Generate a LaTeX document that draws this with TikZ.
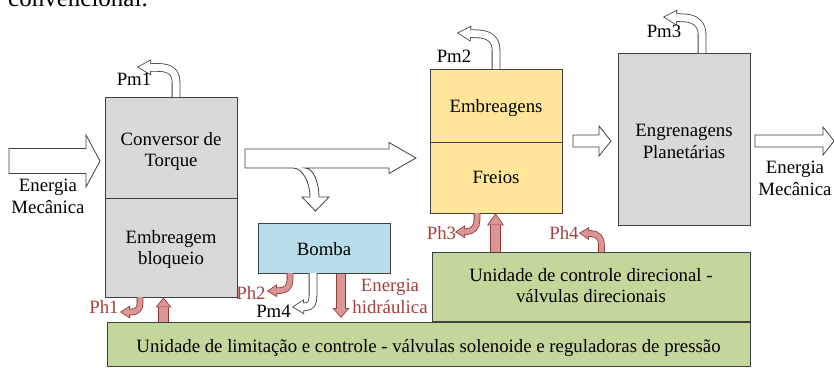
\documentclass[tikz,border=0pt]{standalone}
\usepackage{fontspec}
\setmainfont{Liberation Serif}
\usetikzlibrary{arrows.meta}
\definecolor{edge}{HTML}{404040}
\definecolor{boxgray}{HTML}{D9D9D9}
\definecolor{boxyellow}{HTML}{FFE699}
\definecolor{boxblue}{HTML}{B7DEE8}
\definecolor{boxgreen}{HTML}{C3D69B}
\definecolor{redfill}{HTML}{D99694}
\definecolor{rededge}{HTML}{953735}
\definecolor{redtext}{HTML}{A3403D}
% #1 edge colour, #2 fill colour, #3 band width, #4 head length, #5 head width, #6 path
\newcommand\bandarrow[6]{%
  \pgfmathsetmacro\baA{atan((#5/2)/#4)}%
  \pgfmathsetmacro\baD{0.8/sin(\baA)}%
  \pgfmathsetmacro\baL{#4-0.8-\baD}%
  \pgfmathsetmacro\baW{#5*\baL/#4}%
  \pgfmathsetmacro\baO{#3+1.6}%
  \draw[draw=#1, line width=\baO pt, -{Triangle[length=#4pt, width=#5pt, line width=0pt]}] #6;%
  \draw[draw=#2, line width=#3pt, shorten >=\baD pt, -{Triangle[length=\baL pt, width=\baW pt, line width=0pt]}] #6;%
}
\begin{document}
\begin{tikzpicture}[x=1pt,y=-1pt,
  font=\fontsize{18.8}{21.5}\selectfont,
  box/.style={draw=edge, line width=0.8pt, inner sep=0pt},
  bigarrow/.style={draw=edge, line width=0.8pt, fill=white, line join=miter},
  txt/.style={inner sep=0pt, align=center, text=black},
  bl/.style={inner sep=0pt, anchor=base},
  rl/.style={inner sep=0pt, anchor=base, text=redtext}]
\useasboundingbox (0,0) rectangle (834,367);
\clip (0,0) rectangle (834,367);

% caption fragment at top
\node[inner sep=0pt, anchor=base west, font=\fontsize{25}{30}\selectfont] (cap) at (8,6) {convencional.};

% boxes
\node[box, fill=boxgray, minimum width=132pt, minimum height=101pt] (conv) at (171,147.5) {};
\node[box, fill=boxgray, minimum width=132pt, minimum height=99pt] (bloq) at (171,247.5) {};
\node[box, fill=boxyellow, minimum width=132pt, minimum height=73pt] (embr) at (496,105.5) {};
\node[box, fill=boxyellow, minimum width=132pt, minimum height=71pt] (frei) at (496,177.5) {};
\node[box, fill=boxgray, minimum width=132pt, minimum height=172pt] (engr) at (684,139) {};
\node[box, fill=boxblue, minimum width=132pt, minimum height=50pt] (bomba) at (324,248) {};
\node[box, fill=boxgreen, minimum width=318pt, minimum height=69pt] (dir) at (591,286.5) {};
\node[box, fill=boxgreen, minimum width=643pt, minimum height=44pt] (lim) at (428.5,344) {};

% big block arrows
\draw[bigarrow] (9,148.5) -- (86,148.5) -- (86,135) -- (100,161) -- (86,187) -- (86,173.5) -- (9,173.5) -- cycle;
\draw[bigarrow] (245,149) -- (389,149) -- (389,142.5) -- (416,158) -- (389,173.5) -- (389,168)
  -- (305,168) .. controls (314,168) and (319,184) .. (319,197) -- (329,197) -- (315.5,211)
  -- (302,197) -- (310,197) .. controls (310,183) and (303,168) .. (293,168) -- (245,168) -- cycle;
\draw[bigarrow] (573,135) -- (599,135) -- (599,126) -- (611,141) -- (599,156) -- (599,147) -- (573,147) -- cycle;
\draw[bigarrow] (755,135) -- (823,135) -- (823,127) -- (834,141) -- (823,155) -- (823,147) -- (755,147) -- cycle;

% mechanical losses (white bent arrows)
\bandarrow{edge}{white}{7}{14}{16}{(176,97) -- (176,82) .. controls (176,72) and (170,68) .. (160,67.5) -- (137,67)}
\bandarrow{edge}{white}{7}{14}{16}{(496,69) -- (496,50) .. controls (496,40) and (490,35) .. (480,34) -- (457,33)}
\bandarrow{edge}{white}{7}{14}{16}{(702,53) -- (702,34) .. controls (702,25) and (696,19) .. (686,18) -- (663,17)}
\bandarrow{edge}{white}{7}{12}{15}{(313,273) -- (313,296) .. controls (313,303) and (311,306.5) .. (305,306.8) -- (292,307)}

% hydraulic losses (red bent arrows)
\bandarrow{rededge}{redfill}{5}{10}{13}{(140,297) -- (140,303) .. controls (140,309) and (137,312) .. (131,312) -- (120,312)}
\bandarrow{rededge}{redfill}{5}{10}{13}{(290,273) -- (290,280) .. controls (290,287) and (286,290.5) .. (279,290.7) -- (267,291)}
\bandarrow{rededge}{redfill}{5}{10}{13}{(477,213) -- (477,220) .. controls (477,227) and (473,231.5) .. (466,231.7) -- (455,232)}
\bandarrow{rededge}{redfill}{5}{10}{13}{(601.5,252) -- (601.5,245) .. controls (601.5,238) and (598,234) .. (591,233.5) -- (579,233)}

% straight red arrows
\bandarrow{rededge}{redfill}{9}{10}{16}{(lim.north -| 163.5,0) -- (bloq.south -| 163.5,0)}
\bandarrow{rededge}{redfill}{9}{12}{17}{(dir.north -| 495.5,0) -- (frei.south -| 495.5,0)}
\bandarrow{rededge}{redfill}{8}{10}{17}{(341,274) -- (341,318)}

% texts
\node[txt] (tconv) at (171,151.4) {Conversor de\\Torque};
\node[txt] (tbloq) at (171,249.4) {Embreagem\\bloqueio};
\node[bl] (tembr) at (496,112) {Embreagens};
\node[bl] (tfrei) at (496,183) {Freios};
\node[bl] (tbomba) at (324,255) {Bomba};
\node[txt] (tengr) at (684,141.5) {Engrenagens\\Planetárias};
\node[txt] (tdir) at (591,285.4) {Unidade de controle direcional -\\válvulas direcionais};
\node[bl] (tlim) at (428.5,352) {Unidade de limitação e controle - válvulas solenoide e reguladoras de pressão};
\node[txt] (ein) at (48,196.4) {Energia\\Mecânica};
\node[txt] (eout) at (795,178.4) {Energia\\Mecânica};
\node[txt, text=redtext] (ehid) at (390,296.4) {Energia\\hidráulica};

\node[bl] (pm1) at (134,85) {Pm1};
\node[bl] (pm2) at (454,62) {Pm2};
\node[bl] (pm3) at (664,37) {Pm3};
\node[bl] (pm4) at (273.5,317) {Pm4};
\node[rl] (ph1) at (104,313) {Ph1};
\node[rl] (ph2) at (251,299) {Ph2};
\node[rl] (ph3) at (441.5,239) {Ph3};
\node[rl] (ph4) at (564,239) {Ph4};
\end{tikzpicture}
\end{document}
